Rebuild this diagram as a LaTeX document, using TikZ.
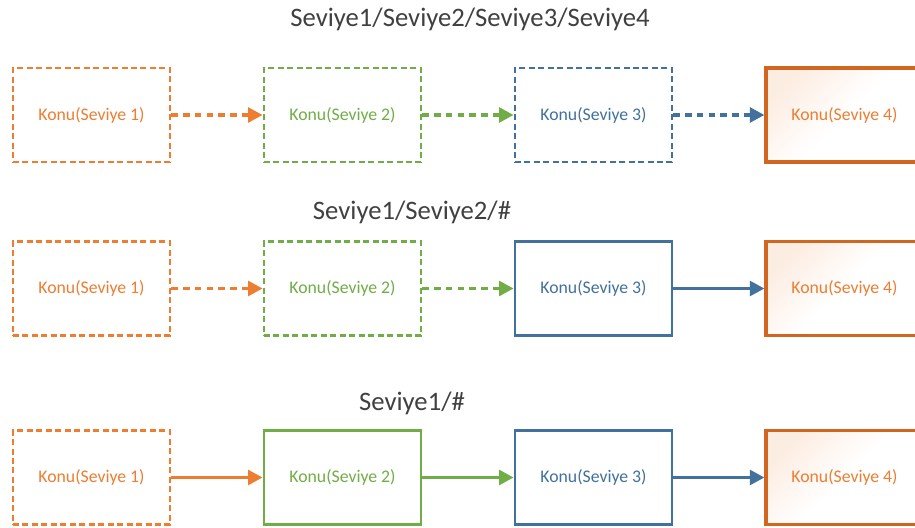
\documentclass[tikz,border=0pt]{standalone}
\usepackage{fontspec}
\setmainfont{Carlito}
\usetikzlibrary{arrows.meta}
\definecolor{cor}{HTML}{ED7D31}
\definecolor{cor4}{HTML}{D0661F}
\definecolor{cgr}{HTML}{70AD47}
\definecolor{cbl}{HTML}{41719C}
\definecolor{ctit}{HTML}{404040}
\tikzset{
  box/.style={draw, line width=2pt, minimum width=117.75pt, minimum height=70.5pt, inner sep=0pt, font=\fontsize{13.3}{15}\selectfont},
  dbox/.style={box, dash pattern=on 4.5pt off 2.6pt},
  lastbox/.style={box, draw=cor4, line width=2.3pt, text=cor, top color=cor!14, bottom color=white, middle color=white, shading angle=45},
  conn/.style={line width=2.7pt, -{Triangle[length=11pt,width=11pt]}},
  dconn/.style={conn, dash pattern=on 5pt off 3.8pt},
  title/.style={font=\fontsize{20}{23}\selectfont, text=ctit}
}
\begin{document}
\begin{tikzpicture}[x=0.75pt,y=-0.75pt]
\clip (0,0) rectangle (915,528);
\fill[white] (0,0) rectangle (915,528);
% titles
\node[title] (t1) at (470,19) {Seviye1/Seviye2/Seviye3/Seviye4};
\node[title] (t2) at (412,212) {Seviye1/Seviye2/\#};
\node[title] (t3) at (412,403) {Seviye1/\#};
% row 1
\node[dbox, draw=cor, text=cor] (a1) at (91.5,115) {Konu(Seviye 1)};
\node[dbox, draw=cgr, text=cgr] (b1) at (342.5,115) {Konu(Seviye 2)};
\node[dbox, draw=cbl, text=cbl] (c1) at (593.5,115) {Konu(Seviye 3)};
\node[lastbox] (d1) at (844.5,115) {Konu(Seviye 4)};
\draw[dconn, cor] (a1) -- (b1);
\draw[dconn, cgr] (b1) -- (c1);
\draw[dconn, cbl] (c1) -- (d1);
% row 2
\node[dbox, draw=cor, text=cor] (a2) at (91.5,288.5) {Konu(Seviye 1)};
\node[dbox, draw=cgr, text=cgr] (b2) at (342.5,288.5) {Konu(Seviye 2)};
\node[box, draw=cbl, text=cbl] (c2) at (593.5,288.5) {Konu(Seviye 3)};
\node[lastbox] (d2) at (844.5,288.5) {Konu(Seviye 4)};
\draw[dconn, cor] (a2) -- (b2);
\draw[dconn, cgr] (b2) -- (c2);
\draw[conn, cbl] (c2) -- (d2);
% row 3
\node[dbox, draw=cor, text=cor] (a3) at (91.5,477.5) {Konu(Seviye 1)};
\node[box, draw=cgr, text=cgr] (b3) at (342.5,477.5) {Konu(Seviye 2)};
\node[box, draw=cbl, text=cbl] (c3) at (593.5,477.5) {Konu(Seviye 3)};
\node[lastbox] (d3) at (844.5,477.5) {Konu(Seviye 4)};
\draw[conn, cor] (a3) -- (b3);
\draw[conn, cgr] (b3) -- (c3);
\draw[conn, cbl] (c3) -- (d3);
\end{tikzpicture}
\end{document}
